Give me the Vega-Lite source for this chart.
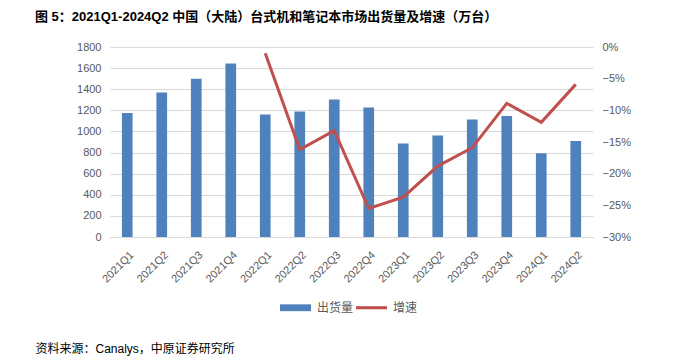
{
  "$schema": "https://vega.github.io/schema/vega-lite/v6.json",
  "width": 483,
  "height": 190,
  "autosize": {"type": "none"},
  "padding": {"left": 110, "top": 47, "right": 107, "bottom": 124},
  "background": "white",
  "title": {
    "text": "图 5：2021Q1-2024Q2 中国（大陆）台式机和笔记本市场出货量及增速（万台）",
    "anchor": "start",
    "frame": "group",
    "dx": -75,
    "dy": -7,
    "offset": 0,
    "baseline": "alphabetic",
    "fontSize": 13,
    "font": "Liberation Sans, Noto Sans CJK SC",
    "fontWeight": "bold",
    "color": "#000000"
  },
  "data": {
    "values": [
      {"q": "2021Q1", "shipments": 1175, "growth": null},
      {"q": "2021Q2", "shipments": 1368, "growth": null},
      {"q": "2021Q3", "shipments": 1500, "growth": null},
      {"q": "2021Q4", "shipments": 1643, "growth": null},
      {"q": "2022Q1", "shipments": 1160, "growth": -0.010},
      {"q": "2022Q2", "shipments": 1188, "growth": -0.162},
      {"q": "2022Q3", "shipments": 1302, "growth": -0.132},
      {"q": "2022Q4", "shipments": 1226, "growth": -0.255},
      {"q": "2023Q1", "shipments": 885, "growth": -0.237},
      {"q": "2023Q2", "shipments": 961, "growth": -0.188},
      {"q": "2023Q3", "shipments": 1112, "growth": -0.159},
      {"q": "2023Q4", "shipments": 1146, "growth": -0.089},
      {"q": "2024Q1", "shipments": 793, "growth": -0.119},
      {"q": "2024Q2", "shipments": 909, "growth": -0.059}
    ]
  },
  "encoding": {
    "x": {
      "field": "q",
      "type": "ordinal",
      "sort": null,
      "scale": {"paddingInner": 0.69, "paddingOuter": 0.345},
      "axis": {
        "labelAngle": -45,
        "labelAlign": "right",
        "labelBaseline": "middle",
        "labelOffset": 5,
        "labelPadding": 16,
        "labelFontSize": 11,
        "labelColor": "#595959",
        "labelFont": "Liberation Sans",
        "ticks": false,
        "domainColor": "#d9d9d9",
        "domainWidth": 1,
        "title": "资料来源：Canalys，中原证券研究所",
        "titleX": -75,
        "titleY": 111,
        "titleAlign": "left",
        "titleAnchor": "start",
        "titleBaseline": "middle",
        "titleFontSize": 12,
        "titleFontWeight": "normal",
        "titleColor": "#000000",
        "titleFont": "Liberation Sans, Noto Sans CJK SC"
      }
    }
  },
  "layer": [
    {
      "mark": {"type": "bar"},
      "encoding": {
        "y": {
          "field": "shipments",
          "type": "quantitative",
          "scale": {"domain": [0, 1800], "nice": false},
          "axis": {
            "values": [0, 200, 400, 600, 800, 1000, 1200, 1400, 1600, 1800],
            "format": "d",
            "title": null,
            "domain": false,
            "ticks": false,
            "labelPadding": 9,
            "labelFontSize": 11,
            "labelColor": "#595959",
            "labelFont": "Liberation Sans",
            "gridColor": "#d9d9d9",
            "gridWidth": 1
          }
        },
        "color": {
          "datum": "出货量",
          "type": "nominal",
          "scale": {"domain": ["出货量", "增速"], "range": ["#4F81BD", "#C0504D"]},
          "legend": {
            "orient": "none",
            "legendX": 170,
            "legendY": 245,
            "direction": "horizontal",
            "title": null,
            "padding": 0,
            "labelFontSize": 12,
            "labelColor": "#595959",
            "labelFont": "Noto Sans CJK SC",
            "labelOffset": 6,
            "columnPadding": 2,
            "symbolSize": 961,
            "encode": {
              "symbols": {
                "update": {
                  "shape": {"signal": "datum.value === '增速' ? 'M-1,-0.1H1V0.1H-1Z' : 'M-1,-0.22H1V0.22H-1Z'"},
                  "fill": {"signal": "datum.value === '增速' ? '#C0504D' : '#4F81BD'"},
                  "stroke": {"value": "transparent"},
                  "strokeWidth": {"value": 0},
                  "opacity": {"value": 1}
                }
              }
            }
          }
        }
      }
    },
    {
      "mark": {"type": "line", "strokeWidth": 3},
      "encoding": {
        "y": {
          "field": "growth",
          "type": "quantitative",
          "scale": {"domain": [-0.3, 0], "nice": false, "zero": false},
          "axis": {
            "orient": "right",
            "values": [-0.3, -0.25, -0.2, -0.15, -0.1, -0.05, 0],
            "format": ".0%",
            "title": null,
            "domain": false,
            "ticks": false,
            "grid": false,
            "labelPadding": 9,
            "labelFontSize": 11,
            "labelColor": "#595959",
            "labelFont": "Liberation Sans"
          }
        },
        "color": {"datum": "增速", "type": "nominal"}
      }
    }
  ],
  "resolve": {"scale": {"y": "independent"}},
  "config": {"view": {"stroke": null}}
}
